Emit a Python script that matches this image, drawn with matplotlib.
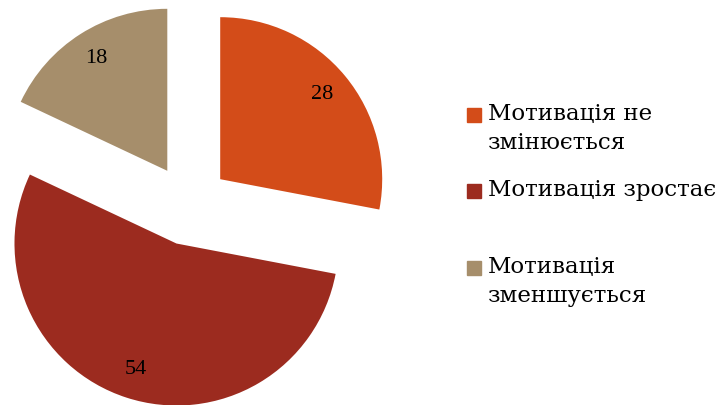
import matplotlib.pyplot as plt
from matplotlib.patches import Rectangle

categories = ["Мотивація не\nзмінюється", "Мотивація зростає", "Мотивація\nзменшується"]
values = [28, 54, 18]
colors = ["#D34C19", "#9C2B1F", "#A68E6B"]

W, H = 716, 405
CX, CY, R = 189, 205, 162

fig = plt.figure(figsize=(W / 100, H / 100), dpi=100)
ax = fig.add_axes([0, 0, 1, 1])
wedges, texts, autotexts = ax.pie(
    values,
    colors=colors,
    startangle=90,
    counterclock=False,
    explode=[0.25] * len(values),
    autopct=lambda p: f"{p * sum(values) / 100:.0f}",
    pctdistance=0.82,
    textprops=dict(family="Liberation Serif", fontsize=16, color="black"),
)
ax.set_xlim(-CX / R, (W - CX) / R)
ax.set_ylim(-(H - CY) / R, CY / R)
ax.set_aspect("auto")
ax.axis("off")

# legend drawn by hand: square beside first line, text left aligned
legend_y = [115, 191, 268]
for label, color, py in zip(categories, colors, legend_y):
    fig.patches.append(Rectangle((467 / W, 1 - (py + 7) / H), 14 / W, 14 / H,
                                 transform=fig.transFigure, color=color))
    fig.text(488 / W, 1 - (py - 12) / H, label, ha="left", va="top",
             family="DejaVu Serif", fontsize=16.5, linespacing=1.4)

fig.savefig("out.png", dpi=100)
